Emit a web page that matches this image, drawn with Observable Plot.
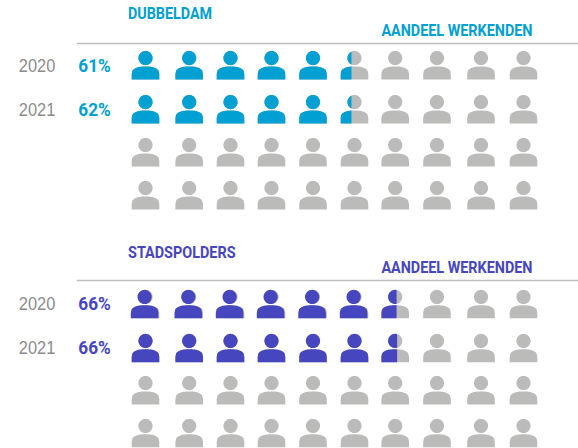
<!DOCTYPE html>
<html><head><meta charset="utf-8">
<script src="https://cdn.jsdelivr.net/npm/d3@7"></script>
<script src="https://cdn.jsdelivr.net/npm/@observablehq/plot@0.6"></script>
<style>html,body{margin:0;padding:0;background:#fff}svg{display:block}#c{width:578px}</style>
</head><body><div id="c"></div>
<script>
const years = ["2020", "2021"];
const panelNames = ["DUBBELDAM", "STADSPOLDERS"];
const measureLabel = "AANDEEL WERKENDEN";
const shares = [[61, 62], [66, 66]];
const fullIcons = [[5, 5], [6, 6]];
const splitFractions = [[0.39, 0.39], [0.55, 0.57]];
const colors = ["#00a0d2", "#4646be"];
const gray = "#bbbbb9";
const columns = d3.range(10);
const rows = d3.range(4);

// piecewise scale stops
const xStops = [145, 188.7, 230, 271, 312.5, 354, 394.7, 436.5, 480.5, 523];
const yStopsTop = [79, 123, 166, 209];
const yStopsBottom = [93.8, 137.8, 180, 222.8];
const rowNudge = [[0, 0], [-0.9, 0]];
const condensedWidths = {"DUBBELDAM": 84, "STADSPOLDERS": 107.5, "AANDEEL WERKENDEN": 151, "%": 32.5, "20": 36.5};

function person(fraction) {
  const w = 13.8, r = 7.1, cy = -21.4, top = -13, cut = -w + fraction * 2 * w, e = 2.5;
  const bodyTop = x => {
    const t = Math.min(1, Math.abs(x) / w);
    return top + (1 - Math.pow(1 - Math.pow(t, e), 1 / e)) * 7.5;
  };
  return {
    draw(ctx) {
      const c = Math.max(-r, Math.min(r, cut));
      const a = Math.acos(c / r);
      ctx.moveTo(c, cy + r * Math.sin(a));
      for (let i = 1; i <= 40; i++) {
        const t = a + (2 * Math.PI - 2 * a) * i / 40;
        ctx.lineTo(r * Math.cos(t), cy + r * Math.sin(t));
      }
      ctx.closePath();
      ctx.moveTo(-w, 0);
      for (let i = 0; i <= 40; i++) {
        const x = -w + (cut + w) * i / 40;
        ctx.lineTo(x, bodyTop(x));
      }
      ctx.lineTo(cut, 0);
      ctx.closePath();
    }
  };
}

function panel(p) {
  const cells = rows.flatMap(row => columns.map(col => ({row, col})));
  const color = colors[p];
  const labelFont = {fontFamily: "Roboto", fontWeight: 700};
  const iconMarks = (data, fraction, dx) => Plot.dot(data, {x: "col", y: "row", fill: color, stroke: "none", symbol: () => person(fraction), r: 5, dx});
  const svg = Plot.plot({
    width: 578, height: 224,
    margin: 0,
    x: {domain: columns, range: xStops, type: "linear", axis: null},
    y: {domain: rows, range: p ? yStopsBottom : yStopsTop, type: "linear", axis: null},
    marks: [
      Plot.ruleY([p ? -0.86 : -0.82], {x1: -1.56, x2: 10.3, stroke: "#bdbdbd", strokeWidth: 1.5}),
      Plot.dot(cells, {x: "col", y: "row", fill: gray, stroke: "none", symbol: () => person(1), r: 5}),
      ...fullIcons[p].map((n, row) => iconMarks(d3.range(n).map(col => ({row, col})), 1, rowNudge[p][row])),
      ...fullIcons[p].map((n, row) => iconMarks([{row, col: n}], splitFractions[p][row], 0)),
      Plot.text(years, {x: -2.48, y: (d, i) => i, dy: p ? -14 : -13.3, text: d => d, fill: "#8c8c8c", fontFamily: "Liberation Sans", fontSize: 17.5, textAnchor: "middle"}),
      Plot.text(shares[p], {x: -1.167, y: (d, i) => i, dy: p ? -14 : -13.3, text: d => d + "%", fill: color, ...labelFont, fontSize: 19, textAnchor: "middle"}),
      Plot.text([panelNames[p]], {x: -0.4, y: p ? -1.48 : -1.5, text: d => d, fill: color, ...labelFont, fontSize: 16, textAnchor: "start"}),
      Plot.text([measureLabel], {x: 9.21, y: p ? -1.14 : -1.1, text: d => d, fill: color, ...labelFont, fontSize: 16, textAnchor: "end"})
    ]
  });
  // squeeze the labels to the condensed widths of the original face
  d3.select(svg).selectAll("text").each(function () {
    const s = this.textContent;
    const w = s.endsWith("%") ? condensedWidths["%"] : condensedWidths[s.slice(0, 2) === "20" ? "20" : s];
    if (w) d3.select(this).attr("textLength", w).attr("lengthAdjust", "spacingAndGlyphs");
  });
  return svg;
}
document.getElementById("c").append(panel(0), panel(1));
</script></body></html>
